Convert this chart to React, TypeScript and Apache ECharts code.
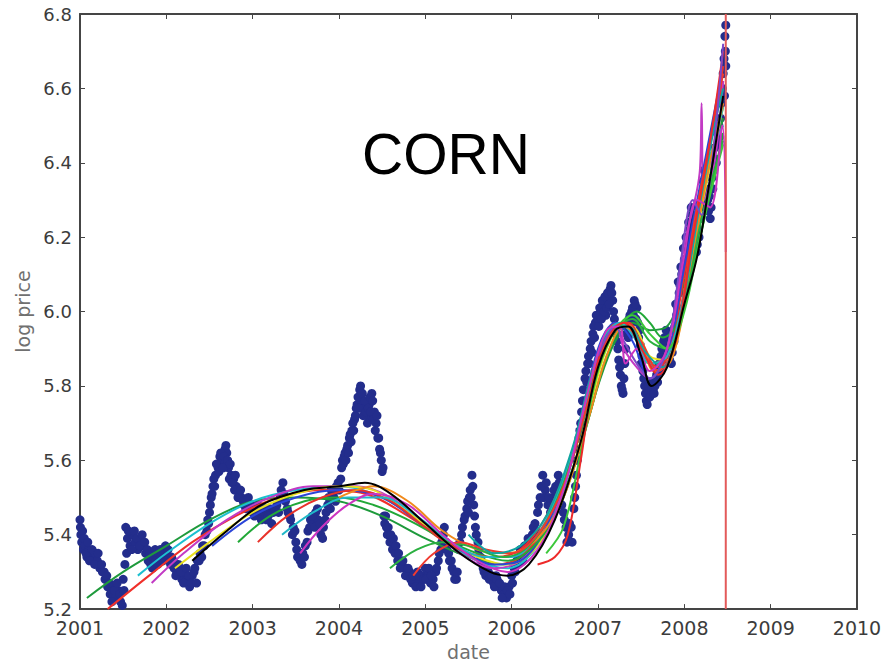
import React, { useEffect, useRef } from "react";
import * as echarts from "echarts";

// ---- data ----
const xTicks = [2001, 2010, 1];
const yTicks = [5.2, 6.8, 0.2];
const chartTitle = "CORN";
const xName = "date";
const yName = "log price";
const crashLineYear = 2008.48;

// observed log prices [year, log price]
const prices: [number, number][] = [
  [2001.0, 5.44], [2001.01, 5.4], [2001.02, 5.38], [2001.04, 5.36], [2001.06, 5.37], [2001.08, 5.34],
  [2001.1, 5.36], [2001.12, 5.35], [2001.15, 5.33], [2001.18, 5.35], [2001.2, 5.33], [2001.23, 5.31],
  [2001.26, 5.3], [2001.29, 5.28], [2001.32, 5.26], [2001.35, 5.24], [2001.38, 5.26], [2001.41, 5.23],
  [2001.44, 5.25], [2001.47, 5.22], [2001.5, 5.28], [2001.52, 5.32], [2001.53, 5.42], [2001.55, 5.39],
  [2001.58, 5.37], [2001.61, 5.4], [2001.64, 5.38], [2001.67, 5.36], [2001.7, 5.39], [2001.73, 5.37],
  [2001.76, 5.35], [2001.79, 5.33], [2001.82, 5.32], [2001.85, 5.34], [2001.88, 5.33], [2001.91, 5.35],
  [2001.94, 5.34], [2001.97, 5.36], [2002.0, 5.35], [2002.03, 5.33], [2002.06, 5.34], [2002.09, 5.31],
  [2002.12, 5.3], [2002.15, 5.31], [2002.18, 5.28], [2002.21, 5.3], [2002.24, 5.28], [2002.27, 5.26],
  [2002.3, 5.29], [2002.33, 5.31], [2002.36, 5.33], [2002.39, 5.35], [2002.42, 5.37], [2002.45, 5.4],
  [2002.48, 5.44], [2002.5, 5.46], [2002.52, 5.5], [2002.54, 5.53], [2002.57, 5.56], [2002.6, 5.58],
  [2002.62, 5.61], [2002.65, 5.6], [2002.68, 5.63], [2002.7, 5.62], [2002.72, 5.58], [2002.75, 5.56],
  [2002.78, 5.55], [2002.81, 5.53], [2002.84, 5.51], [2002.87, 5.5], [2002.9, 5.48], [2002.93, 5.49],
  [2002.96, 5.47], [2003.0, 5.46], [2003.04, 5.47], [2003.08, 5.45], [2003.12, 5.46], [2003.16, 5.44],
  [2003.2, 5.47], [2003.24, 5.46], [2003.28, 5.48], [2003.32, 5.5], [2003.35, 5.54], [2003.38, 5.49],
  [2003.41, 5.46], [2003.44, 5.44], [2003.47, 5.42], [2003.5, 5.38], [2003.52, 5.34], [2003.55, 5.33],
  [2003.58, 5.35], [2003.61, 5.37], [2003.64, 5.41], [2003.67, 5.44], [2003.7, 5.43], [2003.73, 5.46],
  [2003.76, 5.44], [2003.79, 5.4], [2003.82, 5.42], [2003.85, 5.46], [2003.88, 5.5], [2003.91, 5.52],
  [2003.94, 5.5], [2003.97, 5.53], [2004.0, 5.52], [2004.03, 5.58], [2004.06, 5.61], [2004.09, 5.63],
  [2004.12, 5.66], [2004.15, 5.68], [2004.18, 5.71], [2004.21, 5.75], [2004.24, 5.79], [2004.26, 5.76],
  [2004.29, 5.74], [2004.32, 5.72], [2004.35, 5.75], [2004.38, 5.78], [2004.41, 5.73], [2004.43, 5.7],
  [2004.46, 5.66], [2004.48, 5.62], [2004.5, 5.57], [2004.52, 5.45], [2004.55, 5.42], [2004.58, 5.4],
  [2004.61, 5.38], [2004.64, 5.37], [2004.67, 5.35], [2004.7, 5.33], [2004.73, 5.32], [2004.76, 5.31],
  [2004.79, 5.29], [2004.82, 5.3], [2004.85, 5.27], [2004.88, 5.28], [2004.91, 5.3], [2004.94, 5.27],
  [2004.97, 5.29], [2005.0, 5.31], [2005.03, 5.29], [2005.06, 5.27], [2005.09, 5.28], [2005.12, 5.3],
  [2005.15, 5.33], [2005.18, 5.36], [2005.21, 5.4], [2005.24, 5.38], [2005.27, 5.35], [2005.3, 5.33],
  [2005.33, 5.3], [2005.36, 5.28], [2005.39, 5.36], [2005.42, 5.4], [2005.45, 5.44], [2005.48, 5.47],
  [2005.51, 5.5], [2005.54, 5.56], [2005.56, 5.48], [2005.58, 5.42], [2005.61, 5.38], [2005.64, 5.34],
  [2005.67, 5.31], [2005.7, 5.29], [2005.73, 5.3], [2005.76, 5.28], [2005.79, 5.27], [2005.82, 5.29],
  [2005.85, 5.26], [2005.88, 5.25], [2005.91, 5.24], [2005.94, 5.23], [2005.97, 5.26], [2006.0, 5.29],
  [2006.03, 5.31], [2006.06, 5.33], [2006.09, 5.34], [2006.12, 5.35], [2006.15, 5.37], [2006.18, 5.36],
  [2006.21, 5.38], [2006.24, 5.4], [2006.27, 5.43], [2006.3, 5.46], [2006.33, 5.5], [2006.36, 5.56],
  [2006.39, 5.52], [2006.42, 5.48], [2006.45, 5.46], [2006.48, 5.5], [2006.51, 5.53], [2006.54, 5.56],
  [2006.57, 5.52], [2006.6, 5.46], [2006.63, 5.42], [2006.66, 5.4], [2006.69, 5.42], [2006.72, 5.47],
  [2006.74, 5.53], [2006.76, 5.6], [2006.78, 5.66], [2006.8, 5.7], [2006.82, 5.76], [2006.85, 5.82],
  [2006.88, 5.86], [2006.91, 5.9], [2006.94, 5.94], [2006.97, 5.97], [2007.0, 5.98], [2007.03, 6.0],
  [2007.06, 6.02], [2007.09, 5.99], [2007.12, 6.03], [2007.15, 6.07], [2007.17, 6.03], [2007.19, 5.98],
  [2007.21, 5.94], [2007.23, 5.9], [2007.25, 5.85], [2007.27, 5.8], [2007.29, 5.78], [2007.31, 5.86],
  [2007.33, 5.94], [2007.36, 5.98], [2007.39, 6.0], [2007.42, 6.03], [2007.45, 6.01], [2007.48, 5.95],
  [2007.51, 5.88], [2007.54, 5.8], [2007.56, 5.76], [2007.58, 5.78], [2007.61, 5.8], [2007.64, 5.79],
  [2007.67, 5.82], [2007.7, 5.84], [2007.73, 5.88], [2007.76, 5.92], [2007.79, 5.95], [2007.82, 5.9],
  [2007.85, 5.86], [2007.88, 5.92], [2007.91, 5.99], [2007.94, 6.05], [2007.97, 6.1], [2008.0, 6.14],
  [2008.03, 6.18], [2008.06, 6.22], [2008.09, 6.26], [2008.12, 6.22], [2008.15, 6.18], [2008.18, 6.25],
  [2008.21, 6.32], [2008.24, 6.36], [2008.27, 6.3], [2008.3, 6.25], [2008.33, 6.33], [2008.36, 6.41],
  [2008.39, 6.45], [2008.42, 6.52], [2008.44, 6.6], [2008.46, 6.68], [2008.47, 6.74], [2008.48, 6.66],
];

// more observed log prices in between (the daily spread)
const pricesMore: [number, number][] = [
  [2001.005, 5.42], [2001.03, 5.41], [2001.05, 5.39], [2001.07, 5.35], [2001.09, 5.38], [2001.11, 5.33],
  [2001.14, 5.36], [2001.17, 5.32], [2001.21, 5.35], [2001.25, 5.32], [2001.28, 5.3], [2001.31, 5.29],
  [2001.34, 5.27], [2001.37, 5.22], [2001.4, 5.25], [2001.43, 5.27], [2001.46, 5.24], [2001.49, 5.21],
  [2001.51, 5.25], [2001.54, 5.35], [2001.56, 5.41], [2001.6, 5.36], [2001.63, 5.41], [2001.66, 5.39],
  [2001.69, 5.37], [2001.72, 5.4], [2001.75, 5.38], [2001.78, 5.36], [2001.81, 5.35], [2001.84, 5.31],
  [2001.87, 5.36], [2001.9, 5.32], [2001.93, 5.36], [2001.96, 5.33], [2001.99, 5.37], [2002.02, 5.36],
  [2002.05, 5.32], [2002.08, 5.33], [2002.11, 5.29], [2002.14, 5.32], [2002.17, 5.3], [2002.2, 5.27],
  [2002.23, 5.31], [2002.26, 5.29], [2002.29, 5.27], [2002.32, 5.3], [2002.35, 5.27], [2002.38, 5.33],
  [2002.41, 5.34], [2002.44, 5.37], [2002.47, 5.41], [2002.49, 5.43], [2002.51, 5.48], [2002.53, 5.51],
  [2002.55, 5.55], [2002.56, 5.53], [2002.58, 5.59], [2002.61, 5.57], [2002.63, 5.62], [2002.66, 5.58],
  [2002.67, 5.61], [2002.69, 5.64], [2002.71, 5.6], [2002.73, 5.55], [2002.74, 5.59], [2002.76, 5.54],
  [2002.79, 5.52], [2002.8, 5.56], [2002.83, 5.5], [2002.86, 5.52], [2002.89, 5.49], [2002.92, 5.47],
  [2002.95, 5.5], [2002.98, 5.48], [2003.02, 5.45], [2003.06, 5.48], [2003.1, 5.44], [2003.14, 5.47],
  [2003.18, 5.45], [2003.22, 5.43], [2003.26, 5.47], [2003.3, 5.46], [2003.33, 5.52], [2003.36, 5.51],
  [2003.4, 5.47], [2003.43, 5.45], [2003.46, 5.4], [2003.49, 5.41], [2003.51, 5.36], [2003.54, 5.35],
  [2003.57, 5.32], [2003.6, 5.34], [2003.63, 5.38], [2003.66, 5.42], [2003.69, 5.45], [2003.72, 5.42],
  [2003.75, 5.47], [2003.78, 5.43], [2003.81, 5.39], [2003.84, 5.44], [2003.87, 5.48], [2003.9, 5.47],
  [2003.93, 5.51], [2003.96, 5.49], [2003.99, 5.54], [2004.02, 5.55], [2004.04, 5.6], [2004.05, 5.59],
  [2004.07, 5.62], [2004.08, 5.6], [2004.1, 5.64], [2004.11, 5.62], [2004.13, 5.67], [2004.14, 5.65],
  [2004.16, 5.7], [2004.17, 5.68], [2004.19, 5.72], [2004.2, 5.74], [2004.22, 5.77], [2004.23, 5.74],
  [2004.25, 5.8], [2004.27, 5.78], [2004.28, 5.72], [2004.3, 5.76], [2004.31, 5.73], [2004.33, 5.7],
  [2004.34, 5.74], [2004.36, 5.77], [2004.37, 5.73], [2004.39, 5.76], [2004.4, 5.71], [2004.42, 5.68],
  [2004.44, 5.72], [2004.45, 5.66], [2004.47, 5.63], [2004.49, 5.6], [2004.51, 5.58], [2004.53, 5.43],
  [2004.54, 5.45], [2004.56, 5.4], [2004.57, 5.42], [2004.59, 5.38], [2004.6, 5.4], [2004.62, 5.36],
  [2004.63, 5.39], [2004.65, 5.35], [2004.66, 5.37], [2004.68, 5.33], [2004.69, 5.35], [2004.71, 5.31],
  [2004.74, 5.33], [2004.77, 5.29], [2004.8, 5.31], [2004.83, 5.28], [2004.86, 5.29], [2004.89, 5.26],
  [2004.92, 5.29], [2004.95, 5.26], [2004.98, 5.28], [2005.01, 5.28], [2005.04, 5.31], [2005.07, 5.29],
  [2005.1, 5.26], [2005.13, 5.31], [2005.16, 5.35], [2005.19, 5.38], [2005.22, 5.42], [2005.25, 5.36],
  [2005.28, 5.33], [2005.31, 5.31], [2005.34, 5.28], [2005.37, 5.3], [2005.4, 5.38], [2005.43, 5.42],
  [2005.46, 5.45], [2005.49, 5.49], [2005.5, 5.46], [2005.52, 5.52], [2005.53, 5.5], [2005.55, 5.53],
  [2005.57, 5.45], [2005.59, 5.4], [2005.62, 5.36], [2005.65, 5.33], [2005.68, 5.3], [2005.71, 5.31],
  [2005.74, 5.28], [2005.77, 5.29], [2005.8, 5.26], [2005.83, 5.28], [2005.86, 5.27], [2005.89, 5.23],
  [2005.92, 5.26], [2005.95, 5.25], [2005.98, 5.24], [2006.01, 5.27], [2006.04, 5.3], [2006.07, 5.32],
  [2006.1, 5.36], [2006.13, 5.33], [2006.16, 5.35], [2006.19, 5.39], [2006.22, 5.37], [2006.25, 5.42],
  [2006.28, 5.41], [2006.31, 5.48], [2006.34, 5.53], [2006.37, 5.5], [2006.4, 5.54], [2006.43, 5.5],
  [2006.46, 5.48], [2006.49, 5.52], [2006.52, 5.5], [2006.55, 5.54], [2006.58, 5.48], [2006.61, 5.44],
  [2006.64, 5.38], [2006.67, 5.43], [2006.7, 5.38], [2006.73, 5.5], [2006.75, 5.56], [2006.77, 5.63],
  [2006.79, 5.68], [2006.81, 5.73], [2006.83, 5.79], [2006.84, 5.76], [2006.86, 5.84], [2006.87, 5.81],
  [2006.89, 5.88], [2006.9, 5.86], [2006.92, 5.92], [2006.93, 5.89], [2006.95, 5.96], [2006.96, 5.93],
  [2006.98, 5.99], [2007.01, 5.96], [2007.02, 6.01], [2007.04, 5.98], [2007.05, 6.03], [2007.07, 6.0],
  [2007.08, 6.04], [2007.1, 6.01], [2007.11, 6.05], [2007.13, 6.02], [2007.14, 6.06], [2007.16, 6.05],
  [2007.18, 6.0], [2007.2, 5.96], [2007.22, 5.92], [2007.24, 5.87], [2007.26, 5.83], [2007.28, 5.79],
  [2007.3, 5.82], [2007.32, 5.9], [2007.34, 5.96], [2007.35, 5.93], [2007.37, 5.99], [2007.38, 5.97],
  [2007.4, 6.01], [2007.41, 5.99], [2007.43, 6.02], [2007.44, 5.98], [2007.46, 5.97], [2007.47, 5.93],
  [2007.49, 5.91], [2007.5, 5.86], [2007.52, 5.84], [2007.53, 5.82], [2007.55, 5.78], [2007.57, 5.75],
  [2007.59, 5.8], [2007.6, 5.77], [2007.62, 5.79], [2007.63, 5.81], [2007.65, 5.78], [2007.66, 5.8],
  [2007.68, 5.83], [2007.69, 5.81], [2007.71, 5.86], [2007.72, 5.84], [2007.74, 5.9], [2007.75, 5.87],
  [2007.77, 5.93], [2007.78, 5.9], [2007.8, 5.93], [2007.81, 5.88], [2007.83, 5.87], [2007.84, 5.91],
  [2007.86, 5.89], [2007.87, 5.95], [2007.89, 5.96], [2007.9, 6.02], [2007.92, 6.01], [2007.93, 6.08],
  [2007.95, 6.07], [2007.96, 6.12], [2007.98, 6.11], [2007.99, 6.17], [2008.01, 6.12], [2008.02, 6.2],
  [2008.04, 6.16], [2008.05, 6.24], [2008.07, 6.2], [2008.08, 6.28], [2008.1, 6.24], [2008.11, 6.2],
  [2008.13, 6.25], [2008.14, 6.16], [2008.16, 6.22], [2008.17, 6.2], [2008.19, 6.28], [2008.2, 6.3],
  [2008.22, 6.35], [2008.23, 6.38], [2008.25, 6.33], [2008.26, 6.28], [2008.28, 6.27], [2008.29, 6.31],
  [2008.31, 6.28], [2008.32, 6.36], [2008.34, 6.38], [2008.35, 6.44], [2008.37, 6.4], [2008.38, 6.48],
  [2008.4, 6.5], [2008.41, 6.47], [2008.43, 6.56], [2008.45, 6.64], [2008.465, 6.58], [2008.475, 6.7],
  [2008.48, 6.77],
];

// fitted curves [year, log price]
const fitGreenA: [number, number][] = [[2001.08, 5.23], [2001.5, 5.3], [2002.0, 5.37], [2002.5, 5.44], [2003.0, 5.49], [2003.5, 5.5], [2004.0, 5.49], [2004.5, 5.45], [2005.0, 5.39], [2005.5, 5.34], [2005.9, 5.32], [2006.2, 5.36], [2006.5, 5.46], [2006.8, 5.64], [2007.0, 5.8], [2007.2, 5.92], [2007.4, 5.97], [2007.6, 5.95], [2007.8, 5.96], [2008.0, 6.08], [2008.2, 6.3], [2008.45, 6.52]];
const fitRedA: [number, number][] = [[2001.32, 5.2], [2001.8, 5.29], [2002.3, 5.38], [2002.8, 5.45], [2003.3, 5.5], [2003.8, 5.52], [2004.3, 5.51], [2004.8, 5.45], [2005.3, 5.37], [2005.8, 5.32], [2006.1, 5.34], [2006.4, 5.43], [2006.7, 5.6], [2007.0, 5.86], [2007.2, 5.96], [2007.4, 5.95], [2007.6, 5.86], [2007.8, 5.88], [2008.0, 6.1], [2008.2, 6.35], [2008.45, 6.62]];
const fitCyanA: [number, number][] = [[2001.67, 5.29], [2002.0, 5.35], [2002.5, 5.43], [2003.0, 5.49], [2003.5, 5.52], [2004.0, 5.53], [2004.4, 5.51], [2004.8, 5.46], [2005.2, 5.39], [2005.6, 5.33], [2005.95, 5.31], [2006.3, 5.37], [2006.6, 5.52], [2006.9, 5.78], [2007.1, 5.93], [2007.3, 5.97], [2007.5, 5.9], [2007.7, 5.84], [2007.9, 5.93], [2008.1, 6.2], [2008.3, 6.42], [2008.45, 6.5]];
const fitMagentaA: [number, number][] = [[2001.83, 5.27], [2002.2, 5.35], [2002.7, 5.44], [2003.2, 5.5], [2003.7, 5.53], [2004.2, 5.53], [2004.6, 5.5], [2005.0, 5.43], [2005.4, 5.35], [2005.8, 5.31], [2006.1, 5.33], [2006.4, 5.42], [2006.7, 5.6], [2007.0, 5.88], [2007.2, 5.97], [2007.3, 5.9], [2007.45, 5.85], [2007.6, 5.82], [2007.8, 5.9], [2008.0, 6.18], [2008.18, 6.38], [2008.2, 6.56], [2008.23, 6.3], [2008.35, 6.4], [2008.45, 6.62]];
const fitYellowA: [number, number][] = [[2002.1, 5.31], [2002.5, 5.38], [2003.0, 5.46], [2003.5, 5.51], [2004.0, 5.53], [2004.4, 5.52], [2004.8, 5.46], [2005.2, 5.39], [2005.6, 5.34], [2005.95, 5.32], [2006.3, 5.37], [2006.6, 5.5], [2006.9, 5.74], [2007.1, 5.9], [2007.3, 5.97], [2007.45, 5.95], [2007.6, 5.88], [2007.8, 5.87], [2008.0, 6.02], [2008.2, 6.28], [2008.45, 6.55]];
const fitBlackA: [number, number][] = [[2002.3, 5.33], [2002.7, 5.41], [2003.1, 5.48], [2003.6, 5.52], [2004.0, 5.53], [2004.3, 5.54], [2004.6, 5.51], [2005.0, 5.43], [2005.4, 5.35], [2005.75, 5.3], [2005.95, 5.29], [2006.2, 5.32], [2006.5, 5.44], [2006.8, 5.65], [2007.0, 5.85], [2007.2, 5.95], [2007.35, 5.96], [2007.5, 5.88], [2007.62, 5.8], [2007.8, 5.85], [2008.0, 6.02], [2008.15, 6.15], [2008.3, 6.36], [2008.45, 6.58]];
const fitBlueA: [number, number][] = [[2002.53, 5.37], [2003.0, 5.45], [2003.5, 5.5], [2004.0, 5.52], [2004.5, 5.5], [2005.0, 5.42], [2005.4, 5.36], [2005.8, 5.32], [2006.1, 5.33], [2006.4, 5.42], [2006.7, 5.62], [2007.0, 5.9], [2007.2, 5.97], [2007.4, 5.92], [2007.6, 5.82], [2007.8, 5.88], [2008.0, 6.12], [2008.2, 6.36], [2008.45, 6.66]];
const fitGreenB: [number, number][] = [[2002.83, 5.38], [2003.2, 5.45], [2003.6, 5.49], [2004.0, 5.5], [2004.4, 5.48], [2004.8, 5.44], [2005.2, 5.39], [2005.6, 5.35], [2005.95, 5.33], [2006.3, 5.38], [2006.6, 5.5], [2006.9, 5.72], [2007.1, 5.88], [2007.3, 5.97], [2007.45, 6.0], [2007.6, 5.97], [2007.75, 5.93], [2007.9, 5.96], [2008.1, 6.12], [2008.3, 6.32], [2008.45, 6.48]];
const fitRedB: [number, number][] = [[2003.06, 5.38], [2003.4, 5.45], [2003.8, 5.5], [2004.2, 5.52], [2004.6, 5.49], [2005.0, 5.42], [2005.4, 5.36], [2005.8, 5.34], [2006.1, 5.36], [2006.4, 5.45], [2006.7, 5.62], [2006.95, 5.85], [2007.15, 5.96], [2007.35, 5.97], [2007.55, 5.88], [2007.7, 5.85], [2007.9, 5.95], [2008.1, 6.2], [2008.3, 6.45], [2008.45, 6.66]];
const fitCyanB: [number, number][] = [[2003.34, 5.4], [2003.7, 5.46], [2004.1, 5.5], [2004.5, 5.5], [2004.9, 5.45], [2005.3, 5.38], [2005.7, 5.34], [2006.0, 5.34], [2006.3, 5.4], [2006.6, 5.55], [2006.85, 5.75], [2007.05, 5.92], [2007.25, 5.97], [2007.45, 5.92], [2007.6, 5.86], [2007.8, 5.88], [2008.0, 6.05], [2008.2, 6.3], [2008.45, 6.55]];
const fitMagentaB: [number, number][] = [[2003.55, 5.35], [2003.8, 5.42], [2004.1, 5.48], [2004.4, 5.51], [2004.8, 5.48], [2005.2, 5.4], [2005.6, 5.33], [2005.95, 5.3], [2006.3, 5.36], [2006.6, 5.52], [2006.9, 5.8], [2007.1, 5.95], [2007.25, 5.96], [2007.32, 5.86], [2007.45, 5.9], [2007.6, 5.84], [2007.8, 5.9], [2008.0, 6.15], [2008.15, 6.3], [2008.3, 6.28], [2008.44, 6.5], [2008.48, 6.16]];
const fitGreenC: [number, number][] = [[2004.59, 5.31], [2004.9, 5.36], [2005.2, 5.38], [2005.5, 5.37], [2005.9, 5.34], [2006.2, 5.37], [2006.5, 5.48], [2006.8, 5.68], [2007.0, 5.86], [2007.2, 5.95], [2007.4, 5.98], [2007.6, 5.92], [2007.8, 5.9], [2008.0, 6.02], [2008.2, 6.25], [2008.45, 6.46]];
const fitRedC: [number, number][] = [[2004.86, 5.29], [2005.1, 5.35], [2005.4, 5.38], [2005.7, 5.36], [2006.0, 5.35], [2006.3, 5.4], [2006.6, 5.53], [2006.9, 5.77], [2007.1, 5.92], [2007.3, 5.97], [2007.5, 5.92], [2007.7, 5.84], [2007.9, 5.92], [2008.1, 6.22], [2008.3, 6.46], [2008.45, 6.64]];
const fitOrangeA: [number, number][] = [[2004.0, 5.5], [2004.4, 5.53], [2004.8, 5.49], [2005.2, 5.41], [2005.6, 5.36], [2005.95, 5.35], [2006.3, 5.39], [2006.6, 5.5], [2006.9, 5.72], [2007.1, 5.88], [2007.3, 5.96], [2007.5, 5.92], [2007.65, 5.84], [2007.85, 5.87], [2008.05, 6.08], [2008.25, 6.35], [2008.45, 6.56]];
const fitRedD: [number, number][] = [[2006.3, 5.32], [2006.5, 5.34], [2006.65, 5.4], [2006.8, 5.6], [2006.95, 5.82], [2007.1, 5.93], [2007.3, 5.97], [2007.5, 5.9], [2007.7, 5.83], [2007.9, 5.92], [2008.1, 6.2], [2008.3, 6.46], [2008.45, 6.7]];
const fitGreenD: [number, number][] = [[2006.4, 5.35], [2006.6, 5.42], [2006.8, 5.62], [2007.0, 5.84], [2007.2, 5.95], [2007.4, 5.99], [2007.6, 5.94], [2007.8, 5.9], [2008.0, 6.0], [2008.2, 6.22], [2008.45, 6.45]];
const fitPurpleA: [number, number][] = [[2007.0, 5.88], [2007.2, 5.96], [2007.3, 5.92], [2007.45, 5.86], [2007.6, 5.82], [2007.8, 5.9], [2007.95, 6.12], [2008.1, 6.3], [2008.2, 6.26], [2008.3, 6.36], [2008.45, 6.72]];
const fitTealA: [number, number][] = [[2005.5, 5.4], [2005.8, 5.35], [2006.1, 5.37], [2006.4, 5.45], [2006.7, 5.63], [2006.95, 5.85], [2007.15, 5.95], [2007.35, 5.96], [2007.55, 5.89], [2007.75, 5.85], [2007.95, 5.98], [2008.15, 6.25], [2008.35, 6.5], [2008.45, 6.6]];

const fits: { data: [number, number][]; color: string }[] = [
  { data: fitGreenA, color: "#1e9a3c" },
  { data: fitRedA, color: "#f0302a" },
  { data: fitCyanA, color: "#1cc0d0" },
  { data: fitMagentaA, color: "#c23ac4" },
  { data: fitYellowA, color: "#e8e020" },
  { data: fitBlueA, color: "#2a44d8" },
  { data: fitGreenB, color: "#22a838" },
  { data: fitRedB, color: "#e8322a" },
  { data: fitCyanB, color: "#20b8c8" },
  { data: fitOrangeA, color: "#f08a1c" },
  { data: fitGreenC, color: "#2bb040" },
  { data: fitRedC, color: "#f03a30" },
  { data: fitTealA, color: "#11a5a0" },
  { data: fitGreenD, color: "#3cc83a" },
  { data: fitRedD, color: "#ee2a2a" },
  { data: fitPurpleA, color: "#7c48c8" },
  { data: fitMagentaB, color: "#cc34c0" },
  { data: fitBlackA, color: "#000000" },
];

const axisColor = "#454545";
const labelColor = "#3c3c3c";
const font = "DejaVu Sans";

export default function App() {
  const ref = useRef<HTMLDivElement>(null);
  useEffect(() => {
    if (!ref.current) return;
    const chart = echarts.init(ref.current, undefined, { renderer: "svg" });
    const mirrorX = {
      type: "value",
      min: xTicks[0],
      max: xTicks[1],
      interval: xTicks[2],
      position: "top",
      axisLine: { show: true, lineStyle: { color: axisColor, width: 2 } },
      axisTick: { show: true, inside: true, length: 5, lineStyle: { color: axisColor } },
      axisLabel: { show: false },
      splitLine: { show: false },
    };
    const mirrorY = {
      type: "value",
      min: yTicks[0],
      max: yTicks[1],
      interval: yTicks[2],
      position: "right",
      axisLine: { show: true, lineStyle: { color: axisColor, width: 2 } },
      axisTick: { show: true, inside: true, length: 5, lineStyle: { color: axisColor } },
      axisLabel: { show: false },
      splitLine: { show: false },
    };
    const option: any = {
      animation: false,
      backgroundColor: "#ffffff",
      title: {
        text: chartTitle,
        left: 357,
        top: 120,
        textStyle: { fontFamily: "Liberation Sans", fontSize: 57, fontWeight: "normal", color: "#000" },
      },
      grid: { left: 80, right: 28, top: 14, bottom: 51, containLabel: false },
      xAxis: [
        {
          type: "value",
          min: xTicks[0],
          max: xTicks[1],
          interval: xTicks[2],
          name: xName,
          nameLocation: "middle",
          nameGap: 31,
          nameTextStyle: { fontFamily: font, fontSize: 19, color: "#707070" },
          axisLine: { show: true, onZero: false, lineStyle: { color: axisColor, width: 2 } },
          axisTick: { show: true, inside: true, length: 5, lineStyle: { color: axisColor } },
          axisLabel: {
            margin: 9,
            fontFamily: font,
            fontSize: 19,
            lineHeight: 19,
            color: labelColor,
            formatter: (v: number) => String(Math.round(v)),
          },
          splitLine: { show: false },
        },
        mirrorX,
      ],
      yAxis: [
        {
          type: "value",
          min: yTicks[0],
          max: yTicks[1],
          interval: yTicks[2],
          name: yName,
          nameLocation: "middle",
          nameGap: 45,
          nameTextStyle: { fontFamily: font, fontSize: 19, color: "#707070" },
          axisLine: { show: true, onZero: false, lineStyle: { color: axisColor, width: 2 } },
          axisTick: { show: true, inside: true, length: 5, lineStyle: { color: axisColor } },
          axisLabel: {
            margin: 8,
            fontFamily: font,
            fontSize: 18,
            lineHeight: 18,
            color: labelColor,
            formatter: (v: number) => v.toFixed(1),
          },
          splitLine: { show: false },
        },
        mirrorY,
      ],
      series: [
        {
          type: "scatter",
          data: [...prices, ...pricesMore],
          symbol: "circle",
          symbolSize: 9,
          itemStyle: { color: "#232d8c", opacity: 1 },
          z: 2,
        },
        ...fits.map((f) => ({
          type: "line",
          data: f.data,
          smooth: 0.35,
          showSymbol: false,
          symbol: "none",
          lineStyle: { color: f.color, width: 2 },
          z: 3,
        })),
        {
          type: "line",
          data: [
            [crashLineYear, yTicks[0]],
            [crashLineYear, yTicks[1]],
          ],
          showSymbol: false,
          symbol: "none",
          lineStyle: { color: "#e35a5a", width: 2 },
          z: 4,
        },
      ],
    };
    chart.setOption(option);
    return () => chart.dispose();
  }, []);
  return (
    <div
      ref={ref}
      style={{ position: "absolute", left: 0, top: 0, width: 885, height: 666, background: "#fff" }}
    />
  );
}
